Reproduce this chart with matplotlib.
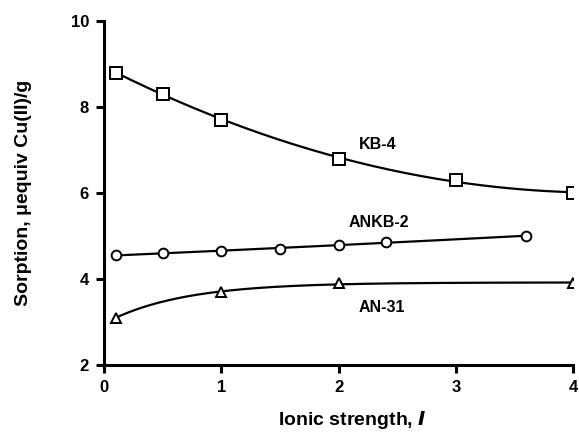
import numpy as np
import matplotlib.pyplot as plt

plt.rcParams['font.family'] = ['Liberation Sans', 'DejaVu Sans']
plt.rcParams['font.weight'] = 'bold'

# sorption data for the three ion exchangers
kb4_x = [0.1, 0.5, 1.0, 2.0, 3.0, 4.0]
kb4_y = [8.8, 8.3, 7.7, 6.8, 6.3, 6.0]

ankb2_x = [0.1, 0.5, 1.0, 1.5, 2.0, 2.4, 3.6]
ankb2_y = [4.55, 4.6, 4.65, 4.7, 4.8, 4.85, 5.0]

an31_x = [0.1, 1.0, 2.0, 4.0]
an31_y = [3.1, 3.7, 3.9, 3.9]

labels = ['KB-4', 'ANKB-2', 'AN-31']
label_pos = [(2.33, 7.12), (2.34, 5.32), (2.37, 3.33)]


def poly_curve(x, y, deg):
    coef = np.polyfit(x, y, deg)
    xs = np.linspace(min(x), max(x), 200)
    return xs, np.polyval(coef, xs)


def satur_curve(x, y):
    # y = a - b*exp(-k*x), k picked by least squares over a grid
    x = np.asarray(x)
    y = np.asarray(y)
    best = None
    for k in np.linspace(0.2, 4, 400):
        A = np.column_stack([np.ones_like(x), -np.exp(-k * x)])
        sol, res, *_ = np.linalg.lstsq(A, y, rcond=None)
        err = np.sum((A @ sol - y) ** 2)
        if best is None or err < best[0]:
            best = (err, k, sol)
    _, k, (a, b) = best
    xs = np.linspace(x.min(), x.max(), 200)
    return xs, a - b * np.exp(-k * xs)


fig = plt.figure(figsize=(5.79, 4.36), dpi=100)
ax = fig.add_axes([0.18, 0.163, 0.81, 0.789])

curves = [
    poly_curve(kb4_x, kb4_y, 2),
    poly_curve(ankb2_x, ankb2_y, 2),
    satur_curve(an31_x, an31_y),
]
points = [(kb4_x, kb4_y, 's', 8), (ankb2_x, ankb2_y, 'o', 7), (an31_x, an31_y, '^', 7)]

for (xs, ys), (x, y, m, ms) in zip(curves, points):
    ax.plot(xs, ys, color='black', lw=1.6)
    ax.plot(x, y, ls='none', marker=m, ms=ms, mfc='white', mec='black', mew=1.4)

for txt, (lx, ly) in zip(labels, label_pos):
    ax.text(lx, ly, txt, ha='center', va='center', fontsize=11.5, fontweight='bold')

ax.set_xlim(0, 4)
ax.set_ylim(2, 10)
ax.set_xticks([0, 1, 2, 3, 4])
ax.set_yticks([2, 4, 6, 8, 10])
ax.spines['top'].set_visible(False)
ax.spines['right'].set_visible(False)
for s in ['left', 'bottom']:
    ax.spines[s].set_linewidth(2.2)
ax.tick_params(direction='out', length=6, width=2.2, labelsize=12, pad=5)
for lab in ax.get_xticklabels() + ax.get_yticklabels():
    lab.set_fontweight('bold')

ax.set_xlabel('Ionic strength, $\\mathbfit{I}$', fontsize=14, fontweight='bold', labelpad=10)
ax.xaxis.label.set_x(0.53)
ax.set_ylabel('Sorption, \u03bcequiv Cu(II)/g', fontsize=14, fontweight='bold', labelpad=28)

fig.savefig('out.png', dpi=100)
